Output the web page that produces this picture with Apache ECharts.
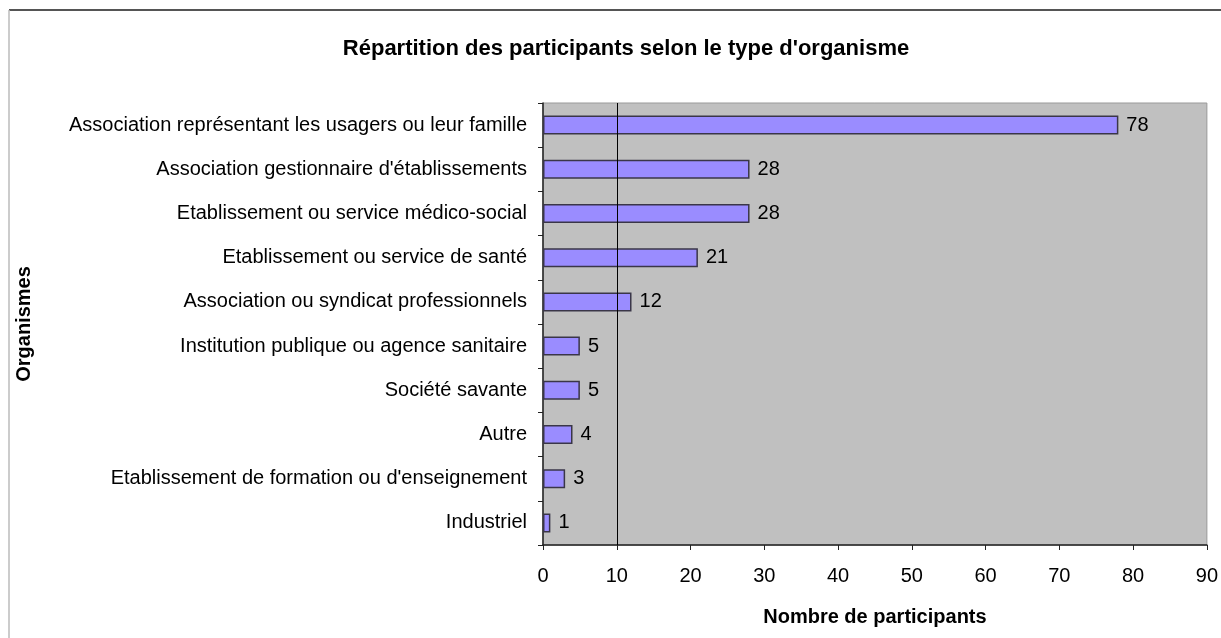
<!DOCTYPE html>
<html>
<head>
<meta charset="utf-8">
<script src="https://cdn.jsdelivr.net/npm/echarts@6/dist/echarts.min.js"></script>
<style>
  html, body { margin: 0; padding: 0; background: #fff; }
  #chart { width: 1221px; height: 638px; }
</style>
</head>
<body>
<div id="chart"></div>
<script>
// categories, top to bottom
const categories = [
  "Association représentant les usagers ou leur famille",
  "Association gestionnaire d'établissements",
  "Etablissement ou service médico-social",
  "Etablissement ou service de santé",
  "Association ou syndicat professionnels",
  "Institution publique ou agence sanitaire",
  "Société savante",
  "Autre",
  "Etablissement de formation ou d'enseignement",
  "Industriel"
];
const participants = [78, 28, 28, 21, 12, 5, 5, 4, 3, 1];
const refLine = [10];
const xTicks = { min: 0, max: 90, step: 10 };

const font = "'Liberation Sans', Arial, Helvetica, sans-serif";
const chart = echarts.init(document.getElementById("chart"));

chart.setOption({
  animation: false,
  textStyle: { fontFamily: font },
  title: {
    text: "Répartition des participants selon le type d'organisme",
    left: 621,
    top: 33,
    textAlign: "center",
    textStyle: { fontSize: 22, fontWeight: "bold", color: "#000", fontFamily: font }
  },
  graphic: [
    { type: "line", shape: { x1: 9, y1: 10, x2: 1221, y2: 10 }, style: { stroke: "#555", lineWidth: 2 } },
    { type: "line", shape: { x1: 9, y1: 10, x2: 9, y2: 638 }, style: { stroke: "#bbb", lineWidth: 1.5 } }
  ],
  grid: {
    left: 543,
    right: 11,
    top: 103,
    bottom: 93,
    show: true,
    backgroundColor: "#C0C0C0",
    borderColor: "#999",
    borderWidth: 1
  },
  xAxis: {
    type: "value",
    min: xTicks.min,
    max: xTicks.max,
    interval: xTicks.step,
    name: "Nombre de participants",
    nameLocation: "middle",
    nameGap: 62,
    nameTextStyle: { fontSize: 20, fontWeight: "bold", color: "#000" },
    axisLine: { show: true, lineStyle: { color: "#222", width: 1.5 } },
    axisTick: { show: true, length: 5, lineStyle: { color: "#222" } },
    axisLabel: { fontSize: 20, color: "#000", margin: 21 },
    splitLine: { show: false }
  },
  yAxis: {
    type: "category",
    inverse: true,
    data: categories,
    name: "Organismes",
    nameLocation: "middle",
    nameGap: 509,
    nameRotate: 90,
    nameTextStyle: { fontSize: 20, fontWeight: "bold", color: "#000" },
    axisLine: { show: true, lineStyle: { color: "#222", width: 1.5 } },
    axisTick: { show: true, length: 5, inside: false, lineStyle: { color: "#222" } },
    axisLabel: { fontSize: 20, color: "#000", margin: 16 },
    splitLine: { show: false }
  },
  series: [
    {
      type: "bar",
      data: participants,
      barWidth: 19,
      itemStyle: { color: "#9A8CFF", borderColor: "#3a3648", borderWidth: 1.5 },
      label: {
        show: true,
        position: "right",
        distance: 8,
        fontSize: 20,
        color: "#000"
      },
      markLine: {
        silent: true,
        symbol: "none",
        label: { show: false },
        lineStyle: { color: "#000", width: 1, type: "solid" },
        data: refLine.map(v => ({ xAxis: v }))
      }
    }
  ]
});
</script>
</body>
</html>
